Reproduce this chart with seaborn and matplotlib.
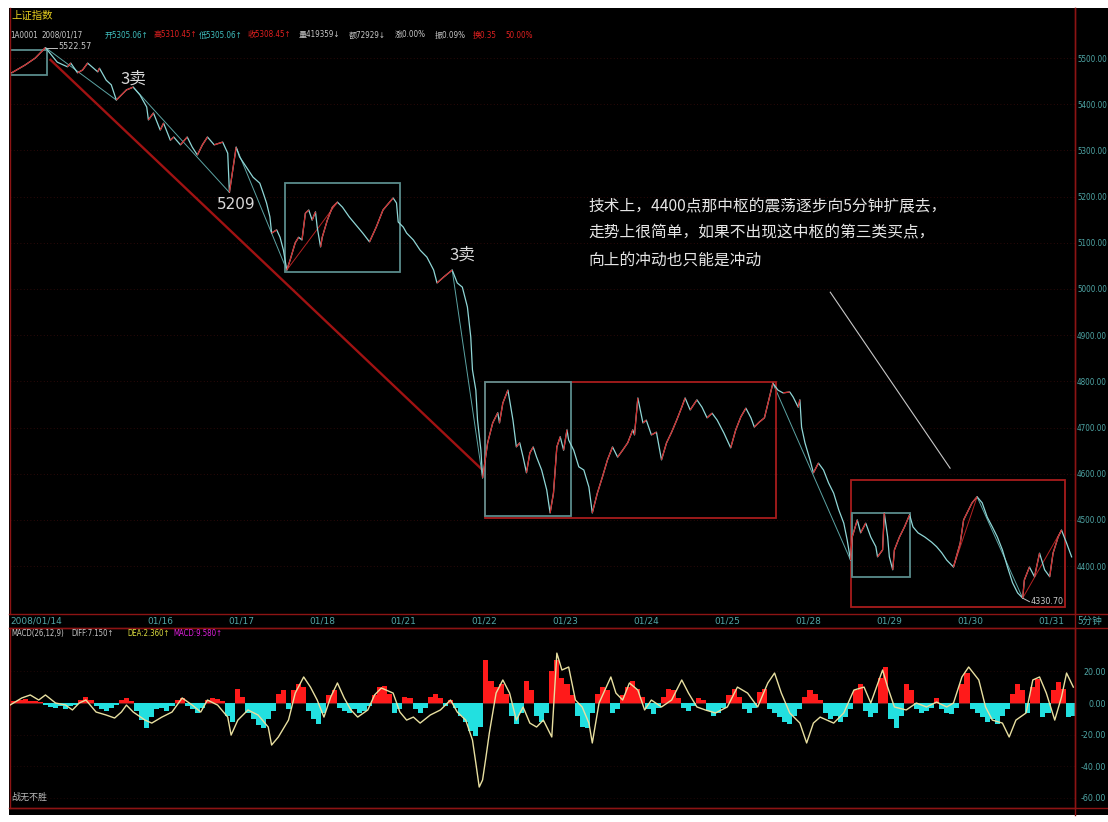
import numpy as np
import pandas as pd
import matplotlib
matplotlib.use("Agg")
import matplotlib.pyplot as plt
import seaborn as sns
from matplotlib.collections import LineCollection
from matplotlib.lines import Line2D
from matplotlib.patches import Rectangle

plt.rcParams['font.family'] = ['Noto Sans CJK SC', 'DejaVu Sans']
plt.rcParams['axes.unicode_minus'] = False

# ---------------- data (5-minute bars, bar index from chart start) ----------------
price_bars = [1, 9, 15, 21, 28, 34, 36, 40, 43, 46, 52, 53, 57, 60, 63, 69, 73, 77, 81, 82,
              85, 89, 91, 95, 97, 101, 105, 108, 111, 114, 117, 121, 126, 129, 130, 134, 136, 140, 144, 148,
              150, 152, 154, 155, 158, 160, 162, 164, 166, 169, 171, 173, 175, 177, 179, 181, 182, 184, 185, 188,
              191, 194, 197, 201, 206, 209, 213, 217, 221, 227, 229, 230, 233, 235, 239, 243, 247, 251, 253, 257,
              262, 265, 268, 271, 273, 274, 276, 277, 279, 280, 283, 286, 289, 290, 292, 295, 296, 298, 300, 302,
              304, 306, 308, 310, 312, 315, 318, 320, 322, 324, 326, 328, 330, 331, 334, 337, 340, 343, 345, 348,
              351, 354, 357, 360, 363, 366, 369, 370, 372, 375, 377, 380, 383, 386, 389, 392, 395, 398, 400, 403,
              407, 410, 413, 416, 419, 423, 427, 430, 433, 436, 439, 441, 444, 447, 450, 452, 455, 458, 462, 464,
              467, 468, 469, 471, 474, 476, 479, 482, 485, 488, 491, 494, 496, 498, 499, 502, 504, 507, 510, 513,
              514, 517, 518, 520, 521, 523, 524, 527, 530, 533, 535, 538, 542, 546, 549, 552, 555, 559, 563, 565,
              567, 570, 573, 576, 579, 582, 585, 588, 591, 594, 597, 600, 601, 604, 607, 610, 613, 616, 618, 621,
              623, 626, 629]
price_vals = [5468, 5485, 5500, 5522.57, 5491, 5481, 5489, 5468, 5474, 5489, 5470, 5478, 5452, 5442, 5409, 5431, 5437, 5420, 5394, 5366,
              5381, 5344, 5359, 5322, 5329, 5312, 5329, 5307, 5290, 5312, 5329, 5312, 5318, 5294, 5209, 5307, 5286, 5264, 5242, 5229,
              5208, 5186, 5156, 5121, 5128, 5112, 5084, 5041, 5063, 5100, 5112, 5106, 5164, 5171, 5149, 5167, 5134, 5091, 5112, 5149,
              5177, 5188, 5177, 5156, 5134, 5121, 5102, 5134, 5171, 5197, 5186, 5145, 5134, 5121, 5106, 5084, 5069, 5041, 5013, 5026,
              5041, 5013, 5004, 4961, 4896, 4825, 4781, 4716, 4651, 4591, 4667, 4710, 4732, 4710, 4753, 4781, 4760, 4716, 4658, 4667,
              4636, 4602, 4645, 4658, 4636, 4608, 4565, 4515, 4558, 4658, 4680, 4651, 4695, 4673, 4651, 4615, 4608, 4571, 4515, 4558,
              4593, 4630, 4658, 4636, 4651, 4667, 4695, 4684, 4764, 4710, 4716, 4684, 4690, 4630, 4667, 4690, 4716, 4744, 4764, 4738,
              4760, 4744, 4721, 4731, 4716, 4688, 4656, 4695, 4723, 4742, 4721, 4701, 4712, 4721, 4766, 4796, 4781, 4775, 4777, 4766,
              4744, 4760, 4701, 4667, 4630, 4602, 4623, 4608, 4580, 4558, 4522, 4493, 4457, 4413, 4463, 4500, 4472, 4493, 4463, 4442,
              4420, 4435, 4515, 4463, 4420, 4392, 4435, 4463, 4485, 4511, 4485, 4472, 4463, 4452, 4442, 4429, 4413, 4398, 4450, 4500,
              4515, 4537, 4550, 4537, 4506, 4485, 4463, 4435, 4398, 4364, 4342, 4330.7, 4370, 4398, 4377, 4428, 4392, 4377, 4428, 4463,
              4478, 4450, 4420]

# strokes ("笔") between pivot bars
stroke_from = [21, 73, 134, 164, 262, 452, 559, 573, 600]
stroke_to   = [63, 130, 164, 194, 280, 498, 573, 600, 623]

# zhongshu boxes
box_b0 = [0, 163, 281.5, 281.5, 498, 499]
box_b1 = [22, 231, 454, 332.5, 625, 533]
box_lo = [5463, 5037, 4504, 4508, 4311, 4376]
box_hi = [5517, 5229, 4799, 4799, 4586, 4515]
box_kind = ['c', 'c', 'r', 'c', 'r', 'c']

trend_line_bars = [24, 280]
trend_line_vals = [5496, 4608]
note_line_bars = [486, 557]
note_line_vals = [4993, 4612]

date_ticks = [0, 89, 137, 185, 233, 281, 329, 377, 425, 473, 521, 569, 617]
date_labels = ['2008/01/14', '01/16', '01/17', '01/18', '01/21', '01/22', '01/23', '01/24',
               '01/25', '01/28', '01/29', '01/30', '01/31']
price_ticks = [4400, 4500, 4600, 4700, 4800, 4900, 5000, 5100, 5200, 5300, 5400, 5500]

# MACD signal line
diff_bars = [0, 7, 12, 17, 21, 27, 33, 37, 41, 45, 51, 57, 62, 66, 69, 73, 80, 84, 90, 96,
             102, 108, 113, 117, 123, 129, 131, 135, 141, 147, 153, 155, 159, 165, 169, 174, 178, 182, 186, 190,
             194, 198, 202, 206, 212, 216, 220, 227, 231, 235, 239, 243, 249, 255, 261, 265, 270, 274, 276, 278,
             280, 282, 284, 288, 292, 296, 300, 304, 308, 312, 316, 321, 324, 327, 331, 335, 339, 343, 345, 349,
             356, 359, 363, 367, 372, 376, 380, 386, 392, 398, 402, 407, 412, 418, 425, 431, 437, 443, 449, 453,
             457, 462, 468, 472, 476, 480, 484, 488, 494, 500, 506, 510, 517, 520, 524, 531, 537, 543, 549, 555,
             559, 564, 568, 574, 578, 582, 588, 592, 596, 602, 606, 610, 614, 619, 623, 626, 630]
diff_vals = [-1.3, 3.2, 5.1, 1.9, 5.1, 0, -1.3, -4.4, 0, 1.9, -5.7, -7.6, -9.5, -5.7, -1.3, -5.7, -10.8, -12.7, -8.9, -5.7,
             3.2, -1.3, -5.7, 1.9, -1.3, -8.9, -20.3, -10.8, -4.4, -7.6, -15.2, -26.6, -21.5, -10.8, 6.3, 16.5, 10.1, 1.9, -8.9, 3.8,
             12.7, 3.2, -4.4, -8.9, -4.4, 5.1, 9.5, 6.3, -5.7, -10.8, -8.9, -12.7, -7.6, -4.4, 1.9, -5.7, -10.8, -23.4, -38, -53.2,
             -48.7, -34.2, -19, 6.3, 14.6, 6.3, -10.8, -2.5, -12.7, -15.2, -10.8, -21.5, 31.6, 20.9, 22.8, 1.9, -2.5, -12.7, -25.3, 0,
             16.5, 6.3, 1.9, 12.7, 8.2, -4.4, 1.9, -2.5, 1.9, 14.6, 6.3, -2.5, -4.4, -6.3, -2.5, 10.1, 6.3, -2.5, 12.7, 19,
             6.3, -6.3, -12.7, -25.3, -12.7, -8.9, -10.8, -12.7, -6.3, 8.2, 10.1, 0, 20.9, 10.1, -2.5, -4.4, 0, -2.5, 0.6, -2.5,
             0, 16.5, 22.8, 14.6, -2.5, -10.8, -12.7, -21.5, -10.8, -6.3, 14.6, 16.5, 6.3, -10.8, 3.8, 19, 10.1]

# MACD histogram, one value per 3 bars
macd_hist = [1.5, 1, 2, 2.5, 1, 1.5, 0.5, -1, -2.5, -3, -2, -3.5, -2, -1, 2, 4, 2, -2, -4, -5,
             -3, -1.5, 2, 3, 1.5, -5, -11, -16, -9, -4, -3, -5, -2, 2, 3, -2, -4, -6, -3, 2,
             3, 2.5, 1, -8, -12, 9, 4, -6, -10, -14, -16, -10, -5, 6, 8, -4, 8, 12, 10, -5,
             -10, -13, -6, 5, 8, -3, -5, -6, -4, -6, -5, -2, 5, 10, 11, 6, -6, -4, 4, 3,
             -4, -6, -3, 4, 6, 3, -2, 2, -3, -8, -12, -18, -21, -15, 27, 14, 10, 12, 6, -8,
             -13, -6, 14, 8, -8, -12, -6, 20, 27, 16, 12, 5, -8, -15, -16, -6, 6, 10, 8, -6,
             -4, 5, 10, 14, 9, 4, -4, -7, -3, 4, 9, 8, 3, -3, -5, -2, 3, 2, -5, -8,
             -6, -3, 5, 9, 4, -4, -6, -3, 7, 9, -4, -6, -9, -12, -13, -8, -4, 4, 8, 6,
             2, -6, -10, -8, -12, -9, -4, 8, 12, -5, -9, -6, 16, 23, -10, -16, -8, 12, 8, -4,
             -6, -5, -3, 3, -4, -6, -7, -3, 12, 19, -4, -6, -9, -12, -10, -13, -8, -4, 6, 12,
             8, -6, 10, 15, -9, -6, 8, 13, 9, -9, -8]
macd_ticks = [20, 0, -20, -40, -60]

# ---------------- figure layout ----------------
W, H = 1108, 822
fig = plt.figure(figsize=(W / 100, H / 100), dpi=100, facecolor='white')

def fx(px):
    return px / W

def fy(py):
    return 1 - py / H

bg = fig.add_axes([fx(9), fy(815), fx(1099), 807 / H])
bg.set_facecolor('black')
bg.set_xticks([]); bg.set_yticks([])
for s in bg.spines.values():
    s.set_visible(False)

RED = '#8c1414'
TEAL = '#4fa6a6'
CYAN_LINE = '#8fd6d6'
UP_RED = '#d42828'
NUMFONT = ['DejaVu Sans']

ax = fig.add_axes([fx(10), fy(614), fx(1065), 606 / H])
ax.set_facecolor('none')
ax.set_xlim(0, 631)
ax.set_ylim(4296.3, 5608.3)

for v in price_ticks:
    ax.axhline(v, color='#3a0c0c', lw=0.6, ls=(0, (1, 3)), zorder=0)

df = pd.DataFrame({'bar': price_bars, 'price': price_vals})
sns.lineplot(data=df, x='bar', y='price', ax=ax, color=CYAN_LINE, lw=0.9,
             estimator=None, sort=False, zorder=3)
pts = np.column_stack([df['bar'].to_numpy(float), df['price'].to_numpy(float)])
segs = np.stack([pts[:-1], pts[1:]], axis=1)
up = pts[1:, 1] > pts[:-1, 1]
ax.add_collection(LineCollection(segs[up], colors=UP_RED, linewidths=0.9, zorder=4))

pmap = dict(zip(price_bars, price_vals))
for b0, b1 in zip(stroke_from, stroke_to):
    c = UP_RED if pmap[b1] > pmap[b0] else '#6cc0c0'
    ax.plot([b0, b1], [pmap[b0], pmap[b1]], color=c, lw=0.7, alpha=0.85, zorder=2)

for b0, b1, lo, hi, k in zip(box_b0, box_b1, box_lo, box_hi, box_kind):
    ec = '#a81c1c' if k == 'r' else '#5a8c8c'
    ax.add_patch(Rectangle((b0, lo), b1 - b0, hi - lo, fill=False, ec=ec, lw=1.3, zorder=2))

ax.plot(trend_line_bars, trend_line_vals, color='#a01212', lw=1.7, zorder=1)
ax.plot(note_line_bars, note_line_vals, color='#c8c8c8', lw=0.8, zorder=1)

ax.text(73, 5455, '3卖', color='#d8d8d8', fontsize=12, ha='center', va='center', zorder=6)
ax.text(268, 5073, '3卖', color='#d8d8d8', fontsize=12, ha='center', va='center', zorder=6)
ax.text(134, 5182, '5209', color='#d8d8d8', fontsize=11, ha='center', va='center',
        family=NUMFONT, zorder=6)
note = ['技术上，4400点那中枢的震荡逐步向5分钟扩展去，',
        '走势上很简单，如果不出现这中枢的第三类买点，',
        '向上的冲动也只能是冲动']
for i, line in enumerate(note):
    ax.text(342.5, [5177, 5121, 5063][i], line, color='#e6e6e6', fontsize=11.3,
            ha='left', va='center', zorder=6)
ax.plot([21, 28], [5522.57, 5522.57], color='#c0c0c0', lw=0.7)
ax.text(28.5, 5524, '5522.57', color='#c8c8c8', fontsize=6.5, ha='left', va='center',
        family=NUMFONT, fontstretch='condensed')
ax.plot([600, 604], [4330.7, 4323], color='#c0c0c0', lw=0.7)
ax.text(604.5, 4323, '4330.70', color='#c8c8c8', fontsize=6.5, ha='left', va='center',
        family=NUMFONT, fontstretch='condensed')

ax.yaxis.tick_right()
ax.set_yticks(price_ticks)
ax.set_yticklabels([f'{v}.00' for v in price_ticks], family=NUMFONT)
ax.tick_params(axis='y', length=0, pad=1.5, labelsize=5.8, labelcolor=TEAL)
for lab in ax.get_yticklabels():
    lab.set_fontstretch('condensed')
ax.set_xticks(date_ticks)
ax.set_xticklabels(date_labels, family=NUMFONT)
ax.tick_params(axis='x', length=0, pad=2, labelsize=6.5, labelcolor=TEAL)
ax.get_xticklabels()[0].set_horizontalalignment('left')
ax.set_xlabel(''); ax.set_ylabel('')
for name, s in ax.spines.items():
    s.set_visible(name in ('left', 'right'))
    s.set_color(RED)
    s.set_linewidth(1.0)

# ---------------- MACD panel ----------------
ax2 = fig.add_axes([fx(10), fy(808), fx(1065), 180 / H])
ax2.set_facecolor('none')
hdf = pd.DataFrame({'bar': np.arange(len(macd_hist)) * 3, 'v': macd_hist})
hdf['sign'] = np.where(hdf['v'] >= 0, 'up', 'down')
sns.barplot(data=hdf, x='bar', y='v', hue='sign', palette={'up': '#ff1a1a', 'down': '#22e0e0'},
            native_scale=True, dodge=False, width=1.0, legend=False, saturation=1,
            linewidth=0, ax=ax2, zorder=2)
ax2.axhline(0, color='#6a1a1a', lw=0.8, zorder=1)
for v in macd_ticks:
    if v != 0:
        ax2.axhline(v, color='#2c0a0a', lw=0.6, ls=(0, (1, 3)), zorder=0)
ddf = pd.DataFrame({'bar': diff_bars, 'v': diff_vals})
sns.lineplot(data=ddf, x='bar', y='v', ax=ax2, color='#e8dfa0', lw=1.0,
             estimator=None, sort=False, zorder=3)
ax2.set_xlim(0, 631)
ax2.set_ylim(-66.46, 47.5)
ax2.set_xticks([])
ax2.set_xlabel(''); ax2.set_ylabel('')
ax2.yaxis.tick_right()
ax2.set_yticks(macd_ticks)
ax2.set_yticklabels([f'{v}.00' for v in macd_ticks], family=NUMFONT)
ax2.tick_params(axis='y', length=0, pad=22, labelsize=6.3, labelcolor=TEAL)
for lab in ax2.get_yticklabels():
    lab.set_horizontalalignment('right')
    lab.set_fontstretch('condensed')
for name, s in ax2.spines.items():
    s.set_color(RED)
    s.set_linewidth(1.0)

for py in (614, 628, 808):
    fig.add_artist(Line2D([fx(9), 1], [fy(py), fy(py)], color=RED, lw=1.0))
fig.add_artist(Line2D([fx(1075), fx(1075)], [fy(8), fy(815)], color=RED, lw=1.0))

# ---------------- header texts ----------------
fig.text(fx(11), fy(16), '上证指数', color='#e8d020', fontsize=7.5, ha='left', va='center')
hdr = [('1A0001', 10, '#c8c8c8'), ('2008/01/17', 41, '#c8c8c8'), ('开5305.06↑', 105, '#40c0c0'),
       ('高5310.45↑', 153, '#e02020'), ('低5305.06↑', 199, '#40c0c0'), ('收5308.45↑', 247, '#e02020'),
       ('量419359↓', 299, '#c8c8c8'), ('额72929↓', 349, '#c8c8c8'), ('涨0.00%', 395, '#c8c8c8'),
       ('振0.09%', 435, '#c8c8c8'), ('换0.35', 473, '#e02020'), ('50.00%', 505, '#e02020')]
for t, px, c in hdr:
    fig.text(fx(px), fy(35), t, color=c, fontsize=5.8, ha='left', va='center',
             family=['DejaVu Sans', 'Noto Sans CJK SC'], fontstretch='condensed')
mh = [('MACD(26,12,9)', 11, '#c8c8c8'), ('DIFF:7.150↑', 71, '#c8c8c8'),
      ('DEA:2.360↑', 127, '#e0e040'), ('MACD:9.580↑', 173, '#e020e0')]
for t, px, c in mh:
    fig.text(fx(px), fy(633), t, color=c, fontsize=5.6, ha='left', va='center',
             family=NUMFONT, fontstretch='condensed')
fig.text(fx(1078), fy(621), '5分钟', color=TEAL, fontsize=7, ha='left', va='center')
fig.text(fx(11), fy(797), '战无不胜', color='#b8b8b8', fontsize=6.5, ha='left', va='center')

fig.savefig('out.png', dpi=100, facecolor='white')
